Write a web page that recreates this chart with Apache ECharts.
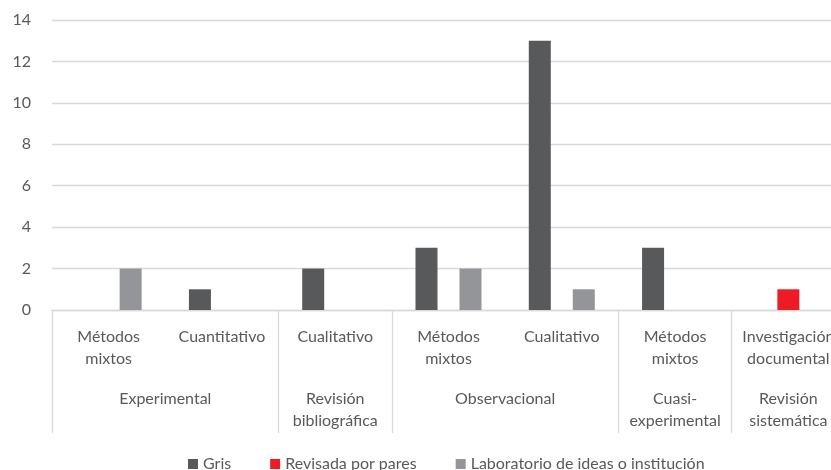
<!DOCTYPE html>
<html>
<head>
<meta charset="utf-8">
<style>
html,body{margin:0;padding:0;background:#fff;}
#chart{width:831px;height:470px;}
</style>
<script src="https://cdn.jsdelivr.net/npm/echarts@6/dist/echarts.min.js"></script>
</head>
<body>
<div id="chart"></div>
<script>
// Sub-categories (first level)
var subCategories = ['Métodos\nmixtos', 'Cuantitativo', 'Cualitativo', 'Métodos\nmixtos', 'Cualitativo', 'Métodos\nmixtos', 'Investigación\ndocumental'];
// Groups (second level) and how many sub-categories each spans
var groupNames = ['Experimental', 'Revisión\nbibliográfica', 'Observacional', 'Cuasi-\nexperimental', 'Revisión\nsistemática'];
var groupSpans = [2, 1, 2, 1, 1];
// Series
var seriesNames = ['Gris', 'Revisada por pares', 'Laboratorio de ideas o institución'];
var grisValues = [0, 1, 2, 3, 13, 3, 0];
var revisadaValues = [0, 0, 0, 0, 0, 0, 1];
var laboratorioValues = [2, 0, 0, 2, 1, 0, 0];
var yTicks = [0, 2, 4, 6, 8, 10, 12, 14];

// Build second-level axis on half-category points (boundaryGap false)
var nHalf = subCategories.length * 2;
var halfLabels = [];
for (var i = 0; i <= nHalf; i++) halfLabels.push('');
var boundarySet = {0: true};
var pos = 0;
for (var g = 0; g < groupNames.length; g++) {
  var center = pos + groupSpans[g];
  halfLabels[center] = groupNames[g];
  pos += groupSpans[g] * 2;
  boundarySet[pos] = true;
}
var halfData = halfLabels.map(function (v, k) { return 'p' + k; });

var textColor = '#595959';
var font = 'Lato';

var chart = echarts.init(document.getElementById('chart'), null, {renderer: 'canvas'});
chart.setOption({
  animation: false,
  textStyle: {fontFamily: font},
  grid: {left: 52, right: -14, top: 20, bottom: 160, containLabel: false, outerBoundsMode: 'none'},
  legend: {
    top: 451,
    left: 183,
    itemWidth: 10,
    itemHeight: 10,
    itemGap: 39,
    icon: 'rect',
    textStyle: {fontFamily: font, fontSize: 16, color: textColor},
    data: seriesNames
  },
  xAxis: [
    {
      type: 'category',
      data: subCategories,
      position: 'bottom',
      axisLine: {show: true, lineStyle: {color: '#d9d9d9', width: 1.3}},
      axisTick: {show: false},
      axisLabel: {
        interval: 0,
        margin: 16,
        fontFamily: font,
        fontSize: 16,
        lineHeight: 22,
        color: textColor,
        hideOverlap: false
      },
      splitLine: {show: false}
    },
    {
      type: 'category',
      data: halfData,
      position: 'bottom',
      boundaryGap: false,
      axisLine: {show: false},
      axisTick: {
        show: true,
        length: 123,
        interval: function (index) { return !!boundarySet[index]; },
        lineStyle: {color: '#d9d9d9', width: 1.3}
      },
      axisLabel: {
        interval: 0,
        margin: 78,
        fontFamily: font,
        fontSize: 16,
        lineHeight: 22,
        color: textColor,
        hideOverlap: false,
        formatter: function (v, idx) { return halfLabels[idx]; }
      },
      splitLine: {show: false}
    }
  ],
  yAxis: {
    type: 'value',
    min: yTicks[0],
    max: yTicks[yTicks.length - 1],
    interval: 2,
    axisLine: {show: false},
    axisTick: {show: false},
    axisLabel: {fontFamily: font, fontSize: 16, color: textColor, margin: 21},
    splitLine: {lineStyle: {color: '#d9d9d9', width: 1.3}}
  },
  series: [
    {name: seriesNames[0], type: 'bar', xAxisIndex: 0, data: grisValues, barWidth: 22, barGap: '0%', itemStyle: {color: '#58595b'}},
    {name: seriesNames[1], type: 'bar', xAxisIndex: 0, data: revisadaValues, barWidth: 22, barGap: '0%', itemStyle: {color: '#ed1c24'}},
    {name: seriesNames[2], type: 'bar', xAxisIndex: 0, data: laboratorioValues, barWidth: 22, barGap: '0%', itemStyle: {color: '#939598'}}
  ]
});
</script>
</body>
</html>
